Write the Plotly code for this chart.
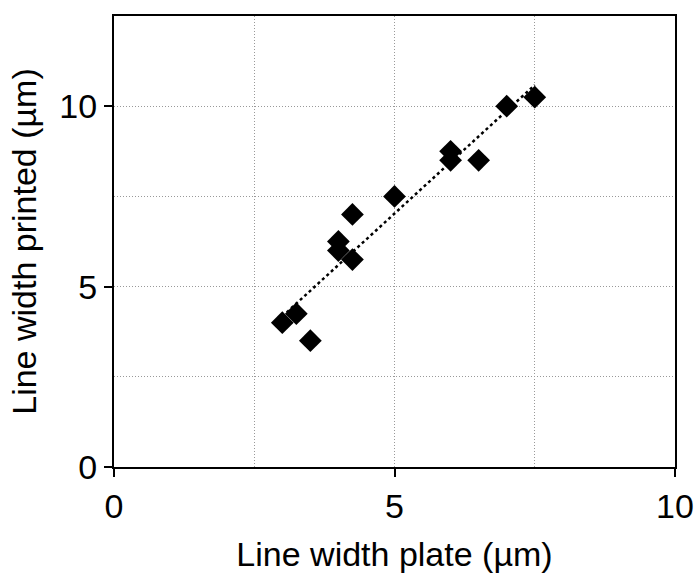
import numpy as np
import plotly.graph_objects as go

# Data
plate_width = [3.0, 3.25, 3.5, 4.0, 4.0, 4.25, 4.25, 5.0, 6.0, 6.0, 6.5, 7.0, 7.5]
printed_width = [4.0, 4.25, 3.5, 6.25, 6.0, 5.75, 7.0, 7.5, 8.75, 8.5, 8.5, 10.0, 10.25]
x_ticks = [0, 5, 10]
y_ticks = [0, 5, 10]

slope, intercept = np.polyfit(plate_width, printed_width, 1)
fit_x = [min(plate_width), max(plate_width)]
fit_y = [slope * v + intercept for v in fit_x]

FONT = "Liberation Sans, Arial, sans-serif"
FS = 34

fig = go.Figure()
fig.add_trace(go.Scatter(x=fit_x, y=fit_y, mode="lines",
                         line=dict(color="black", width=2.5, dash="dot"),
                         showlegend=False, hoverinfo="skip"))
fig.add_trace(go.Scatter(x=plate_width, y=printed_width, mode="markers",
                         marker=dict(symbol="diamond", size=17.5, color="black"),
                         showlegend=False))

grid = dict(showgrid=True, gridcolor="#999999", gridwidth=1, griddash="1px,2px")

fig.update_layout(
    width=696, height=573,
    margin=dict(l=114, r=21, t=16, b=106),
    paper_bgcolor="white", plot_bgcolor="white",
    font=dict(family=FONT, size=FS, color="black"),
    xaxis=dict(range=[0, 10], tickvals=x_ticks, ticks="outside", ticklen=8, tickwidth=2,
               tickcolor="black", showline=True, linecolor="black", linewidth=2, mirror=True,
               zeroline=False, automargin=False, **grid,
               minor=dict(dtick=2.5, tick0=0, ticks="", **grid),
               title=dict(text="Line width plate (µm)", standoff=20, font=dict(size=FS)),
               tickfont=dict(size=FS)),
    yaxis=dict(range=[0, 12.5], tickvals=y_ticks, ticks="outside", ticklen=8, tickwidth=2,
               tickcolor="black", showline=True, linecolor="black", linewidth=2, mirror=True,
               zeroline=False, automargin=False, **grid,
               minor=dict(dtick=2.5, tick0=0, ticks="", **grid),
               title=dict(text="Line width printed (µm)", standoff=12, font=dict(size=FS)),
               tickfont=dict(size=FS)),
    xaxis2=dict(range=[0, 10], overlaying="x", side="top", anchor="y", tickvals=x_ticks,
                ticks="inside", ticklen=8, tickwidth=2, tickcolor="black", showticklabels=False,
                showgrid=False, zeroline=False, showline=False, automargin=False,
                minor=dict(dtick=2.5, tick0=0, ticks="inside", ticklen=4, tickwidth=1.5,
                           tickcolor="black", showgrid=False)),
    yaxis2=dict(range=[0, 12.5], overlaying="y", side="right", anchor="x", tickvals=y_ticks,
                ticks="inside", ticklen=8, tickwidth=2, tickcolor="black", showticklabels=False,
                showgrid=False, zeroline=False, showline=False, automargin=False,
                minor=dict(dtick=2.5, tick0=0, ticks="inside", ticklen=4, tickwidth=1.5,
                           tickcolor="black", showgrid=False)),
)

fig.write_html("out.html", config={"displayModeBar": False},
               post_script="document.body.style.margin='0';document.body.style.overflow='hidden';")
